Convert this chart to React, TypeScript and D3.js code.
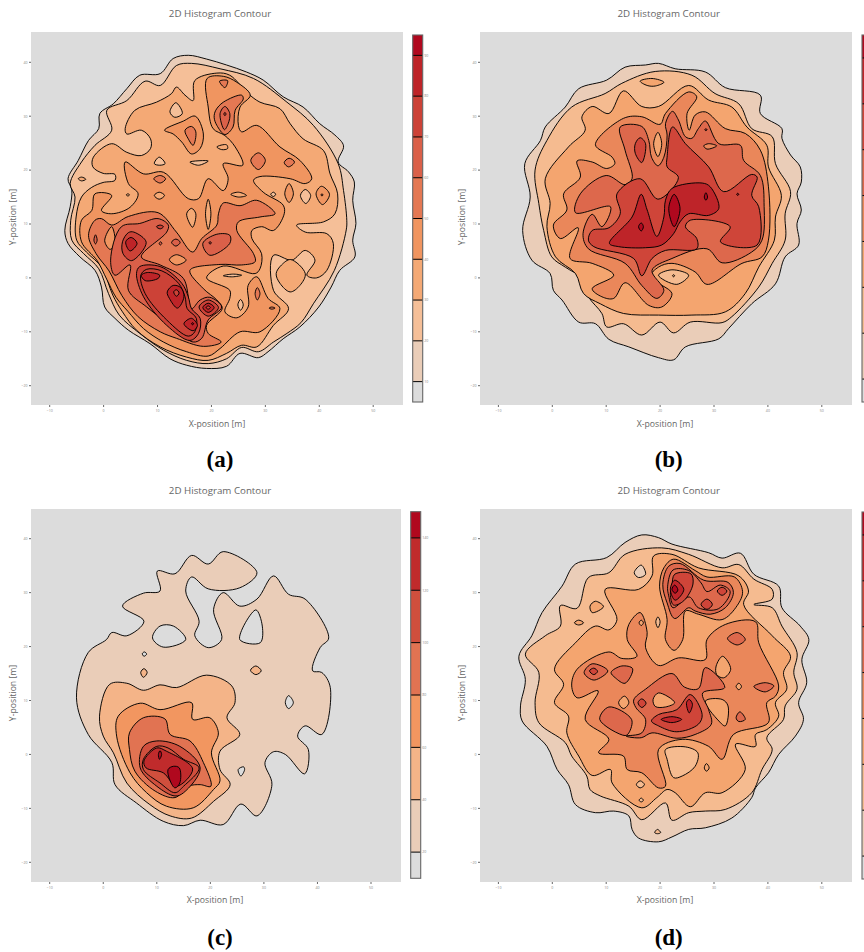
import React from "react";
import * as d3 from "d3";

const xTicks = [-10, 0, 10, 20, 30, 40, 50];
const yTicks = [-20, -10, 0, 10, 20, 30, 40];
const barTicksA = [10, 20, 30, 40, 50, 60, 70, 80, 90];
const barTicksB = [10, 20, 30, 40, 50, 60, 70, 80];
const barTicksC = [20, 40, 60, 80, 100, 120, 140];
const colorsA = ["#eacdb8", "#f5bf98", "#f4a975", "#f09560", "#e47853", "#da6049", "#cc4237", "#be2428", "#b0081e"];
const colorsB = ["#eacdb8", "#f5bb90", "#f4a56f", "#ea875a", "#dd684c", "#cf4539", "#be2429", "#b0081e"];
const colorsC = ["#eacdb8", "#f4b488", "#f29660", "#e17352", "#d04f3d", "#c02b2c", "#b0081e"];

type C = [number, number[]];

const contoursA: C[] = [
  [0, [12.9,40.7,15.7,41.3,19.1,40.6,22.8,39.5,26.5,38.2,29.6,36.7,33.3,33.6,37,31.7,40.1,28.6,42.9,26.5,44.5,24.5,43.5,21.5,45.4,19.7,46.5,17.8,46.2,14.4,46.8,10.1,46.2,7,46.6,3.9,43.8,1.4,42.2,-1.7,39.9,-5.4,36.4,-9.1,33.3,-11.3,30.5,-13.7,28.7,-14.8,25.3,-14,22.8,-16.4,19.1,-16.8,15.4,-16.2,12.3,-15,8.6,-12.2,4.6,-9.7,2.1,-7.5,0.2,-5.4,-0.4,-1.7,-1.6,1.4,-4.4,3.9,-6.6,6.4,-7.2,8.8,-6.2,13.2,-5.9,16.3,-6.6,18.4,-4.7,21.8,-2.8,25.5,-0.9,27.7,-0.7,30.5,1.8,32.3,4.3,35.1,6.7,37.6,10.5,37.9]],
  [1, [16.3,39.8,21.6,38.8,27.8,37,34,32.6,38.9,28.3,43.5,21.2,44.5,16.2,45.1,10.7,45,8.9,42.8,1.4,38.9,-4.8,36.6,-8.3,34,-10.3,31.5,-11.9,28.7,-13.7,25.6,-12.9,22.8,-15,19.4,-15.9,15.4,-15.3,11.1,-13.4,6.7,-10.3,2.9,-6.9,0.9,-2.9,-0.9,1.7,-3.7,4.5,-5.9,7,-6.1,10.7,-5.3,15,-6.2,17.5,-4.1,21.5,-1.6,24.6,1.5,27.4,0.6,31.1,4.3,32.9,7.7,36.5,10.5,35.7,13.5,39.4]],
  [2, [-1.9,22.4,1.5,24.9,4.3,23.3,7,22.7,8.7,24,8.7,25.8,7,27.4,4.3,26.7,4,27.7,5.8,31.1,9.8,32.6,12.6,34.2,13.5,35.4,15.1,33.9,16.6,32.9,16.9,36.6,21,38,23.4,37.6,26.8,34.2,29,32.6,32.7,31.4,34.6,28.6,37,25.8,40.8,23.6,42,19.3,43.4,15.6,42.9,11.9,40.8,10.4,35.8,9.8,37.4,8.5,41.4,8.2,42.6,6.4,41.4,1.4,39.5,0,37.7,0.5,39.2,3.3,37.4,5.1,34.9,3.3,31.5,4.2,31.5,-2.3,34.3,-5.7,31.5,-8.8,28.4,-12.8,25.6,-12.5,22.8,-14,19.4,-15.3,15.4,-14.7,10.5,-12.8,6.1,-9.7,3.5,-6.3,1.7,-3.2,-0.3,1.9,-3.2,4.8,-5,7,-5.1,11.3,-4.1,15,-2.2,16.8,-0.1,17.7,2.1,18.1,2.1,19.2,-0.1,19.4,-2,20.6]],
  [2, [32,0.8,33,2.4,34.7,3.4,37.4,0.8,36.4,-1.4,34.6,-2.6,32.7,-1]],
  [3, [19.2,37,22.2,37.4,24.7,36.3,27.2,33.9,25.3,31.7,25,28.3,25.6,27.1,28.4,28.3,32.7,24.3,36.4,21.8,38.6,18.4,37.4,17.5,34.6,18.4,29,18.8,27.8,18.1,29.6,15.9,33.3,13.5,33.5,11.9,31.5,8.8,29.3,9.5,27.5,8.8,27.5,7.3,29.3,4.5,29,1.7,28.1,0.8,22.2,2.2,19.1,0,23.4,-2.3,23.4,-3.8,22.5,-6.3,24.7,-7.4,26.8,-5.4,26.8,-1.4,28.4,0.2,30.5,-3.8,32.7,-5.7,29,-10,25.3,-10,21.6,-13.1,19.4,-14.5,15.4,-13.7,11.1,-11.9,7.4,-9.4,4.5,-6.2,2.3,-3.6,0.6,-0.3,-1.2,3.2,-4.1,6.7,-4.1,10.7,-2.2,12.5,-1.6,15.6,1.5,15.3,-0.4,12.5,1.5,11.9,4.9,13.1,6.4,15.6,4.6,17.5,4,21.5,7.4,19.3,11.1,19.6,15.7,14.7,17.6,14.7,19.4,18.4,22.2,16.2,23.1,18.4,22.2,21.2,25.8,20.9,24.4,24.3,22.5,26.4,20.3,27.7,19.4,31.7]],
  [4, [-2.8,7.9,-1.6,10.7,-0.4,11,1.5,9.8,4.6,11.4,10.1,12.1,13.5,8.5,16.5,4.8,18.2,7.3,21,9.8,21.3,11.9,22.2,13.9,25.3,13.4,28.4,14.4,31.8,11.9,29,11.3,25,10.4,24.7,8.8,27.8,4.5,28.1,3,25.6,2.4,21.6,2.5,16,1.4,18.5,-2,21,-4.1,22,-5.7,19.1,-8.8,19.4,-10.3,21.8,-11.9,18.5,-12.7,13.5,-11.2,10.5,-10,6.4,-7.2,3.4,-3.3,1,1.3,-1.4,4.5]],
  [3, [1.5,9.5,0.2,6.9,1.2,5.3,2.1,6.4]],
  [5, [3.3,9.5,6.7,10.1,10.1,11,12,9.8,11.7,8.5,7,3.9,10.5,2.4,14.8,-0.1,16.3,-5.7,17.9,-4.1,19.7,-3.6,21.9,-5.4,19.4,-7.8,18.2,-11.2,16.6,-11.9,12.9,-9.1,8,-5.4,4.6,-2.3,4.9,2.4,2.1,0.5,1.3,3.3]],
  [5, [18.4,6.4,21,8.1,23.4,7.9,23.4,6.4,19.7,4.2]],
  [5, [-1.5,8,-1.2,7,-1.5,6.3,-1.8,7]],
  [5, [12.6,6.6,13.4,7.2,14.2,6.6,13.4,5.9]],
  [6, [9.8,9.5,10.5,9.8,11.1,9.5,10.5,9.1]],
  [5, [10.3,6.4,10.6,6.7,10.8,6.4,10.5,6.1]],
  [3, [12.2,3.4,13.5,4.3,15.3,3.3,13.5,2.4]],
  [6, [19.5,6.5,19.8,6.7,20,6.5,19.8,6.3]],
  [6, [3.5,6.7,4.6,8.4,5.6,8.5,7.9,6.6,5.2,3.2,3.6,4.5]],
  [7, [4.1,6.7,5.1,7.5,6.2,6.4,4.9,5]],
  [6, [6.1,0.8,6.7,2.1,10.5,2.1,14.5,-1,15.7,-3.5,16.3,-5.7,17.9,-7.5,17.6,-10.3,16,-11.6,11.7,-8.8,7.4,-3.5]],
  [6, [6.9,0.5,8,1.6,10.8,1.3,13.9,-1,15.1,-3.5,15.5,-5.7,17.2,-7.5,16.9,-10,15.7,-10.8,11.7,-7.8,7.7,-2.9]],
  [7, [7,0.5,8.1,1,10.4,0.5,10.1,-0.1,7.7,-0.5]],
  [7, [11.8,-2.6,12.9,-1.4,14.3,-1.8,14.9,-3.5,13.7,-5.6,12.2,-3.8]],
  [6, [13,-2.6,13.5,-2.2,14,-2.8,13.5,-3.4]],
  [7, [14.9,-8.5,16.3,-7.5,17.4,-8.8,16.6,-9.8]],
  [8, [16.3,-8.5,16.5,-8.3,16.7,-8.5,16.5,-8.7]],
  [6, [17.7,-5.4,19.4,-4.1,21.3,-5.5,19.4,-7.1]],
  [7, [18.4,-5.5,19.4,-4.7,20.5,-5.5,19.4,-6.4]],
  [6, [19,-5.5,19.4,-5.2,19.8,-5.5,19.4,-5.8]],
  [1, [12.3,30.8,13.4,32.5,14.6,30.5,13.2,29.8]],
  [3, [11.3,27.4,14.8,29.1,17,30,18.5,26.7,17.9,24,16.3,23,14.5,25.2,12.9,26.7]],
  [4, [15.1,27.4,16.3,28.1,17.1,27.1,16.6,24.6,15.7,25.8]],
  [4, [21.5,36.5,23,36.6,22.5,35.3]],
  [4, [20.8,31.1,22.2,32.6,25.6,33.9,25.9,33.2,24.4,31.1,24,28,22.5,26.6,21,28.3,20.5,29.8]],
  [5, [21.6,30.5,22.5,31.8,23.4,30.5,23.1,28.6,22.4,27.5]],
  [6, [22.3,30.4,22.5,30.7,22.7,30.4,22.5,30.1]],
  [2, [21,24.3,22.8,24.7,23,24,21.9,23.8]],
  [4, [27.3,21.8,28.7,23.2,30,21.8,28.7,20.1]],
  [4, [33.5,21.4,34.4,22.2,35.4,21.5,34.3,20.6]],
  [1, [9.4,21.2,10.3,22.4,11.4,21.2,10.4,20.9]],
  [1, [16,21.5,19.4,21.7,17.6,20.9]],
  [4, [9.3,18.4,10.5,19,11.5,18.4,10.5,17.6]],
  [2, [9.4,15.3,10.3,15.9,11.3,15.3,10.3,14.6]],
  [2, [4.2,15.4,4.5,15.6,4.8,15.4,4.5,15.2]],
  [2, [-4.7,18.4,-4.1,18.7,-3.3,18.3,-4.1,18]],
  [2, [23.6,15.5,25,15.9,26.5,15.3,25,15]],
  [1, [31,15.5,31.5,15.9,31.9,15.5,31.5,15.1]],
  [3, [33.6,15.6,34.4,17.5,35.2,15.6,34.4,14]],
  [1, [36.5,15.3,37.4,16.4,38.4,15.3,37.5,13.8]],
  [3, [39.4,15.6,40.4,17,41.9,15.5,40.6,13.6]],
  [4, [40.3,15.4,40.5,15.6,40.7,15.4,40.5,15.2]],
  [2, [15.4,11.9,16.3,12.9,17.1,11.9,16.5,9.4]],
  [2, [18.9,11.9,19.4,14.6,19.9,11.9,19.4,9]],
  [4, [28.1,-2.9,28.5,-1.8,29,-2.9,28.5,-4.1]],
  [1, [24.9,-5,25.4,-4,25.9,-5,25.4,-6]],
  [4, [30.7,-5.6,31.2,-5.4,31.8,-5.6,31.2,-5.8]],
  [1, [22.2,0.4,23.9,0.7,25.6,0.5,23.9,0.2]],
];

const contoursB: C[] = [
  [0, [19.7,39.8,22.8,38.8,28.4,38.2,32.1,35.3,38.6,33.9,38.6,30.5,42.6,27.7,42.6,25.9,44.2,22.8,46,20.6,46.2,17.8,45.4,15.6,46.2,12.6,45.4,10.1,45.7,6.1,43.2,3.9,41.4,-1.1,37,-4.8,32.7,-9.4,30.9,-11.3,24.7,-12.8,22.5,-15.2,19.7,-14.8,14.2,-12.8,10.5,-11.4,8,-8.5,4.9,-8.2,1.8,-4.1,0.2,-2.3,-0.4,0.8,-3.8,3.3,-5.5,8.8,-4.1,15,-5.1,21.2,-2.2,25.5,-1.3,28,2.4,31.7,4.9,35.1,10.1,36.7,13.5,39.1,17.3,39.5]],
  [1, [19.1,38.3,25.9,37.6,30.2,34.2,34.6,32.3,37,27.7,40.8,26.2,41.4,21.2,44.2,16,43.2,11.9,43.2,7,40.8,2.7,38.3,-1.7,33.3,-7.2,31.5,-8.3,25.6,-8.2,22.5,-10.2,20,-8.2,16.6,-10.6,13.2,-8.5,10.1,-9.1,9.2,-6.6,6.7,-3.5,5.5,-0.1,2.4,2,-0.1,3.9,-1.6,8.8,-2.5,13.8,-3.2,20,-1,25.5,3.6,31.7,9.8,34.2,12.9,36.1]],
  [2, [16.3,36.5,18.5,37,20.7,36.3,19.1,35.6,17.6,35.7]],
  [2, [1.1,21.5,1.4,21.7,1.7,21.5,1.4,21.3]],
  [2, [5.5,29.9,7.4,31.8,10.5,30.5,13.2,34.7,16.6,31.8,19.7,31.8,25.3,35.7,29,33,33.3,31.7,36.1,28,39.8,24.6,40.1,20.6,42.5,15.3,41.4,11.3,41.2,7,38.3,2,35.8,-2.9,32.1,-6.3,25.9,-6.9,19.7,-6.9,13.2,-6.6,8.9,-4.8,5.8,-2.9,4.3,0.8,0.6,3.9,-1,9.5,-0.4,13.8,-1.3,18.4,3,24.3,6.1,27.4]],
  [3, [8,24.7,13.2,29.6,16.6,29.9,20,28.5,21,30.5,25.3,34.5,26.8,33.6,25,30.5,25.4,27.4,26.5,30.2,28.4,30.8,32.1,27.7,35.8,26.8,38.6,23.7,40.1,16.9,40.1,7,38.9,3.9,35.2,2.7,28.7,-1.2,26.5,1.1,22.2,2.7,19.7,2,18.2,0.2,22.2,-2.9,20.3,-5.4,17.9,-5.1,13.5,-0.9,11.4,-3.8,9.2,-3.5,7.4,-2,11.4,0.5,7.4,2.7,3.3,3.6,4.8,9.3,1.5,7.3,0.2,9.8,2.7,12.6,2.1,15.6,5.2,18.7,4.6,21.7,7.4,21.5,10.1,20.3,11.6,21.2,11.1,22.4]],
  [4, [12.6,28,16.6,28.1,17.9,25.5,18.4,22.4,19.6,20.8,20.7,22.4,21.3,26.5,21,28.6,22.3,30.9,23.4,29.3,24.7,26.2,25.9,25.9,27.1,27.7,28.4,29.1,30.9,24.9,34.9,24.6,35.5,21.8,38.6,19,39.3,13.2,38.9,7,37,4.8,31.5,2.8,28.7,5.4,22.2,3.6,18.5,1.4,20.7,-2.3,19.4,-3.8,16.6,-1.4,13.5,2.7,6.7,5.4,5.7,8.2,7.4,11.8,9.2,9.5,10.8,13.2,4.3,12.1,5.2,15.6,10,19,13.5,17.3,14.8,18.4,13.5,23.7]],
  [2, [18.8,24.9,19.6,27,20.3,24.9,19.6,22.5]],
  [3, [28.1,24.5,29,24.9,30.5,24.5,28.7,23.9]],
  [5, [28.3,27.5,28.5,27.7,28.7,27.5,28.5,27.3]],
  [5, [15.4,24.9,16.3,26,17.3,24.9,16.6,21.4,15.4,23.1]],
  [5, [19.6,14.6,16.3,18.4,12,15.6,12.6,11.9,10.5,9.3,7.4,8.8,6.7,7,7.7,5.8,15.1,3.6,16.6,0.4,18.5,3.6,21,5.1,26.8,5.4,26.8,7.3,24.7,9.5,25.6,10.7,33,9.5,31.2,6.7,38,6.1,38.3,13.2,37,15.3,38,18.7,37,19.2,31.8,16,29,20.6,24.7,24.9,22.3,28,21.3,22.4,21.3,20.6,23.4,18.6]],
  [6, [34.2,15.5,34.4,15.7,34.6,15.5,34.4,15.3]],
  [6, [10.6,6.4,14.8,11.3,16.5,15.5,17.6,12.6,19.4,7.7,20.7,11.3,21,14.4,22.2,16.6,27.8,17.6,29.3,16.9,30.9,12.9,29,11.6,25.3,11.9,23.7,10.4,22.5,8.2,20.3,6.1,17.3,5.6,12.3,5.8]],
  [7, [21.6,12.9,22.6,15.5,23.7,12.9,22.6,9.5]],
  [7, [16,9.5,16.5,10.2,16.9,9.5,16.5,8.7]],
  [7, [28.2,15,28.5,15.8,28.8,15,28.5,14.4]],
  [1, [19.7,0.5,22.2,1.5,25.3,0.5,23.1,-1.2]],
  [2, [22.3,0.4,22.5,0.6,22.7,0.4,22.5,0.2]],
];

const contoursC: C[] = [
  [0, [16.5,36.9,19.6,35.3,22.4,37.6,28.7,33.7,25.5,30.9,19.6,30.7,16.5,32.9,15.4,30.3,17.9,24.7,17.1,22,19.6,19.8,22.1,21.3,20.6,26.9,22.4,30,25.5,27.5,28.7,28.8,31.8,33.1,34.6,29.7,37.7,28.8,42.1,21.6,40.5,19.8,39.1,15.5,40.8,15.2,42.4,12.4,40.8,3.7,37.7,5.3,36.3,3.4,38.3,0.9,37.6,-3.6,34,0,31.8,0.5,30.2,-1.5,31.5,-5.6,28.7,-11.4,25.7,-9.2,22.4,-13,18.1,-12.2,15,-13.2,11.2,-12.4,6.2,-9,2.2,-5.6,1.6,-1.5,-2.8,3.7,-5,10.5,-2.8,18.9,0.6,21.3,1.6,22.6,4.4,22,7.6,24.7,3.6,27.5,7.5,29.9,10.6,30.3,10.1,34,13.4,33.5]],
  [-1, [9.2,21.6,10.6,23.8,13.1,23.8,15.4,21.3,11.2,19.9]],
  [-1, [25.5,21.3,28.5,26.8,29.7,23.8,29.3,20.7]],
  [-1, [7.3,18.7,7.7,19,8.1,18.6,7.6,18.2]],
  [-1, [34,9.6,34.6,10.9,35.5,9.6,34.6,8.5]],
  [-1, [25.2,-2.8,26.2,-2.3,26.4,-2.8,25.7,-4]],
  [1, [7,15.2,7.6,15.9,8.2,15.2,7.5,14.3]],
  [1, [27.5,15.6,28.5,16.4,29.5,15.5,28.5,14.8]],
  [1, [1.2,13,4.4,13.2,7.5,11.9,10.6,12.9,13.7,12.4,19.3,14.7,24,12.7,24.6,9.6,23.1,6.8,25.5,3.7,21.8,0.6,21.8,-2.8,23.7,-5.6,20.6,-8.7,16.5,-11.8,12.5,-11.4,8.7,-9.3,4.4,-5.3,1.9,0.3,0,3.4,-0.7,7.1]],
  [2, [6.9,9.5,10.6,8.3,16.5,9.6,16.7,6.5,19.9,6.8,21.5,4,20.2,0.3,21.8,-4.9,20.6,-6.5,16.8,-9.9,11.8,-9.6,8.1,-7.1,5,-3.4,2.5,3.4,2.8,7.1]],
  [3, [7.5,6.8,11.5,6.6,12.5,3.7,16.2,2.5,18.7,-1.5,20.1,-5.9,18.1,-5.6,15.9,-5.9,13.4,-8,9.7,-6.8,5.9,-3.1,4.9,0.9,4.9,4]],
  [4, [7.5,1.5,10,2.5,14.3,1.5,18.1,-2.5,15,-7.1,13.4,-7.7,10,-5.9,6.9,-2.5]],
  [4, [7.5,-0.9,10,1.5,12.1,1.2,15,-0.9,17.9,-2.5,15,-5.9,13.4,-7.1,10.6,-5.3,7.5,-2.8]],
  [5, [7.6,-1.2,10,1.2,11.8,0.6,16.7,-2.7,13.7,-5.9,11.2,-3.4,8,-2.5]],
  [6, [10.3,0,10.6,0.7,10.9,0,10.5,-0.9]],
  [6, [12.1,-2.8,13.1,-2.2,14.2,-2.5,14.3,-5.3,13.4,-6.2,12.5,-4.9]],
];

const contoursD: C[] = [
  [0, [16.6,40.7,19.7,40.2,22.2,39,29,37.4,31.5,36.4,34.9,37.3,37.4,33.4,42,31.2,42.6,27.2,46,23.8,47.6,21.3,46.3,17.6,47.2,13.3,45.7,9.6,46.6,6.5,45.1,3.4,42,0,40.1,-3.4,37.7,-6.2,37,-8,33.3,-11.8,28.4,-13.6,25.3,-13.9,22.2,-15.3,19.7,-16.2,16,-15.5,14.8,-13.9,14.2,-11.4,11.4,-10.5,8,-10.8,4.3,-9.3,3,-5.6,0.9,-2.8,-1,1.5,-5.6,6.2,-5.9,9,-5,13.9,-6.2,18.2,-3.8,22,-1.9,26.3,1.8,31.2,4.3,35.3,10.1,36.5,13.5,39.3]],
  [1, [19,-14.5,19.5,-13.9,20.1,-14.5,19.5,-14.7]],
  [1, [13.5,37.1,20.3,38.3,25.3,37.1,31.5,34.6,34.6,35.2,37.4,32.5,40.8,30.6,40.8,28.8,37.4,27.8,40.8,27.2,42.6,23.8,45.4,18.9,44.8,15.2,45.4,12.1,43.2,9,42.9,6.5,39.8,3.1,40.8,0.9,38.9,-2.8,37,-7.1,32.1,-10.2,28.4,-10.5,25.3,-10.8,22.2,-12.2,21,-9,16.6,-12.1,14.2,-9.6,8.9,-7.7,7,-6.5,6.4,-4,3.6,-0.3,2.4,2.2,-2.5,5.9,-3.2,9.6,-2.5,15.2,-5,18.6,-1.3,22,1.5,23.8,1.5,27.6,4.6,27.1,6.7,32.8,10.5,33.7]],
  [2, [18.8,36.8,22.2,37.1,27.1,34.6,34.6,33.1,36.4,30.3,35.5,27.8,40.8,22,44.2,18.2,42.9,15.2,43.5,12.1,41.4,9.6,42,7.1,39.8,4.6,37.7,3.7,37.7,1.5,34,1.9,35.8,-2.8,31.5,-7.1,28.4,-7.1,25.6,-9.7,22.8,-7.1,21.3,-6.5,19.4,-8,16.6,-9.9,11.1,-5.3,10.8,-2.8,7.4,-3.9,4.9,-0.3,2.7,4,3,7.1,0.4,9.6,2.1,13,0.4,15.8,4.3,20.7,8,23.8,10.5,23.1,12,25,9.8,30.6,16,30.6,18.5,33.1]],
  [0, [15.2,33.7,16.5,35.1,17.3,33.4,16,32.8]],
  [2, [7,27.5,8,28.4,9.5,27.4,7.4,26.3]],
  [2, [4.1,24.4,4.9,24.9,5.8,24.4,4.9,24]],
  [3, [16.3,26.3,17.6,22.6,17.3,19.8,19.7,16.5,23.4,17.9,28.4,17.6,28.7,21.3,32.1,24.1,37.7,24.6,38.3,20.7,42,12.7,41.4,10.8,39.8,9.6,40.1,5.9,33.6,3.7,31.5,-0.9,29,1.5,24.1,2.8,19.7,0.9,21,-5.9,19.7,-6.2,16.6,-3.4,13.9,-2.8,13.2,-0.3,8.6,0.3,10.5,2.8,6.1,6.5,8.5,11.8,4.6,10.5,3.6,12.7,4.6,15.8,10.5,19,12.9,17.8,15.7,18.2,13.9,21.3,14.2,24.1]],
  [3, [19.9,31.2,20.7,34.6,22.5,36.2,26.5,34.1,28.7,32.9,33.8,32.9,35.3,30.2,34.3,27.6,31.5,25,27.1,26,24.7,26.6,24.2,21.3,22.6,19.3,21,21.3,21.3,25]],
  [4, [20.5,31.5,21.6,34.9,23.7,35.4,28.1,32.3,32.6,31.9,33.6,30,32.1,27.2,29.3,26,26.5,26.6,25.3,27.2,22.7,25.2,21.3,28.1]],
  [4, [21.4,31.2,22.4,34.2,25.3,34.1,27.6,31.8,28.7,30.2,31.2,31.4,33,30.2,30.8,27,27.1,27.2,25.4,29.2,22.4,27.2,21.6,29.4]],
  [5, [22.2,31.4,22.7,33.4,25.7,33.5,26.1,31.6,24.4,28.5,22.5,27.7,21.9,29.7]],
  [6, [21.9,30.6,22.7,32.3,24.4,30.6,22.8,28.6]],
  [7, [22.2,30.6,22.7,31.4,23.3,30.5,22.8,29.9]],
  [5, [30.6,30.3,31.5,31,32.4,30.3,31.5,29.5]],
  [5, [27.6,27.8,28.7,28.8,29.7,27.8,28.7,26.9]],
  [2, [16.1,24.4,16.5,24.9,16.9,24.4,16.5,23.9]],
  [1, [19.2,24.6,19.6,25.5,20,24.6,19.6,23.5]],
  [4, [32.5,21.5,34.3,22.6,35.8,21.3,34.3,20.3]],
  [2, [30.4,16.4,31.6,18.2,33.1,15.8,31.8,14.2,30.5,14.8]],
  [2, [34.1,12.6,34.6,13.2,35.1,12.6,34.6,12]],
  [4, [37.4,12.6,39.5,13.3,41.1,12.7,39.5,11.6]],
  [2, [28.4,9.9,31.5,10.2,32.6,9,32.1,5.3,30.9,6.2]],
  [4, [34.1,6.8,34.8,7.9,35.8,6.5,34.6,6.1]],
  [1, [21,0.9,24.7,1.4,27,0.3,26.5,-2.2,24.1,-4,22.5,-4.3,21.3,-0.9]],
  [2, [28.2,-2.5,28.6,-1.7,29.1,-2.5,28.6,-3.1]],
  [1, [15.6,-5.6,16.3,-4.9,17.1,-5.6,16.3,-6.2]],
  [1, [16.1,-8.5,16.5,-8.1,16.9,-8.5,16.5,-8.8]],
  [4, [5.9,15.2,7.4,16.8,10.3,15.5,7.9,13.8,6.7,14.2]],
  [5, [6.9,15.5,7.7,16,8.4,15.4,7.7,14.8]],
  [4, [10.9,15.2,12.9,16.4,14.9,15.9,13.5,13.2,11.7,14.2]],
  [2, [12.3,9.6,13.4,10.8,14.2,9.6,13.2,8.5]],
  [4, [15.1,10.1,17.3,12.1,22.2,15,24.5,12.5,27.1,12.2,28.4,16.1,32,12.4,27.9,11.4,29,8.3,29.5,5.6,26.5,3.7,23.1,3,18.5,4,16.5,3.1,13.7,3.4,16.6,4,17.3,6.5,15.5,8.7]],
  [4, [8.8,6.5,10.5,8.8,14.7,6.5,14.2,4,13.5,3.5]],
  [2, [18.7,10.2,19.7,11.4,22.7,9.6,21,8.8,19.1,8.9]],
  [5, [15.9,9.6,16.6,10.3,17.4,9.5,16.6,8.7]],
  [5, [18.4,6.2,19.7,7.4,23.1,8.3,25.6,11.1,27.8,7.4,27.1,5.6,23.1,4.2,19.7,5.3]],
  [6, [20.2,6.5,22.2,7,24,6.5,22.2,5.9]],
  [6, [24.9,9.6,25.4,10.2,26,9.3,25.4,7.7]],
];

const BG = "#dcdcdc";
const FONT = "'Open Sans', sans-serif";
const smooth = d3.curveCatmullRomClosed.alpha(0.5);
const PAGE_WIDTH = 864;

type PanelProps = {
  letter: string; contours: C[]; colors: string[]; ticks: number[];
  left: number; right: number; top: number; bottom: number;
  xm10: number; x50: number; y40: number; ym20: number;
  barX: number; barTop: number; barBottom: number; barDomain: [number, number]; titleX: number; xLabelX: number; yLabelX: number; yCenter: number;
  titleY: number; xLabelY: number; letterY: number;
};

function Panel(p: PanelProps) {
  const x = d3.scaleLinear().domain([-10, 50]).range([p.xm10, p.x50]);
  const y = d3.scaleLinear().domain([-20, 40]).range([p.ym20, p.y40]);
  const bar = d3.scaleLinear().domain(p.barDomain).range([p.barBottom, p.barTop]);
  const line = d3.line<[number, number]>().x(d => x(d[0])).y(d => y(d[1])).curve(smooth);
  const pairs = (f: number[]) => d3.range(0, f.length, 2).map(i => [f[i], f[i + 1]] as [number, number]);
  const edges = [p.barDomain[0], ...p.ticks, p.barDomain[1]];
  const labelsFit = p.barX + 20 < PAGE_WIDTH;
  return (
    <g>
      <text x={p.titleX} y={p.titleY} textAnchor="middle" fontFamily={FONT} fontSize={9.75} fill="#666">2D Histogram Contour</text>
      <rect x={p.left} y={p.top} width={p.right - p.left} height={p.bottom - p.top} fill={BG} />
      {p.contours.map(([lvl, pts], i) => (
        <path key={i} d={line(pairs(pts)) || ""} fill={lvl < 0 ? BG : p.colors[lvl]} stroke="#000" strokeWidth={0.95} strokeLinejoin="round" />
      ))}
      {xTicks.map(t => (
        <g key={t}>
          <line x1={x(t)} x2={x(t)} y1={p.bottom} y2={p.bottom + 2} stroke="#666" strokeWidth={1} />
          <text x={x(t)} y={p.bottom + 6.5} textAnchor="middle" fontFamily={FONT} fontSize={3.6} fill="#888">{t < 0 ? "\u2212" + -t : t}</text>
        </g>
      ))}
      {yTicks.map(t => (
        <g key={t}>
          <line x1={p.left - 2} x2={p.left} y1={y(t)} y2={y(t)} stroke="#666" strokeWidth={1} />
          <text x={p.left - 3.5} y={y(t) + 1.3} textAnchor="end" fontFamily={FONT} fontSize={3.6} fill="#888">{t < 0 ? "\u2212" + -t : t}</text>
        </g>
      ))}
      <text x={p.xLabelX} y={p.xLabelY} textAnchor="middle" fontFamily={FONT} fontSize={8.7} fill="#666">X-position [m]</text>
      <text transform={`translate(${p.yLabelX},${p.yCenter}) rotate(-90)`} textAnchor="middle" fontFamily={FONT} fontSize={8.7} fill="#666">Y-position [m]</text>
      {edges.slice(0, -1).map((e, i) => (
        <rect key={i} x={p.barX} width={10} y={bar(edges[i + 1])} height={bar(e) - bar(edges[i + 1])} fill={i === 0 ? BG : p.colors[i - 1]} />
      ))}
      {p.ticks.map(t => (
        <g key={t}>
          <line x1={p.barX} x2={p.barX + 10} y1={bar(t)} y2={bar(t)} stroke="#000" strokeWidth={1} />
          {labelsFit && <text x={p.barX + 11.5} y={bar(t) + 1.3} fontFamily={FONT} fontSize={3.6} fill="#888">{t}</text>}
        </g>
      ))}
      <rect x={p.barX} y={p.barTop} width={10} height={p.barBottom - p.barTop} fill="none" stroke="#666" strokeWidth={1.1} />
      <text x={p.titleX} y={p.letterY} textAnchor="middle" fontFamily="'Liberation Serif', serif" fontWeight="bold" fontSize={23} fill="#000">({p.letter})</text>
    </g>
  );
}

export default function App() {
  const topRow = { top: 32, bottom: 405, y40: 62.3, ym20: 385.7, titleY: 16.5, xLabelY: 427, letterY: 467, yCenter: 217 };
  const botRow = { top: 509, bottom: 882, y40: 538.7, ym20: 862.3, titleY: 493.5, xLabelY: 903, letterY: 945, yCenter: 693 };
  return (
    <svg width={864} height={952} style={{ position: "absolute", left: 0, top: 0, background: "#fff" }}>
      <Panel letter="a" contours={contoursA} colors={colorsA} ticks={barTicksA} left={31} right={403} xm10={49.7} x50={373.2} {...topRow}
        barX={412.7} barTop={35} barBottom={402} barDomain={[5, 95]} titleX={220} xLabelX={217} yLabelX={15.5} />
      <Panel letter="b" contours={contoursB} colors={colorsB} ticks={barTicksB} left={480} right={852} xm10={498.4} x50={821.8} {...topRow}
        barX={862} barTop={35} barBottom={402} barDomain={[5, 85]} titleX={668.7} xLabelX={665} yLabelX={464.5} />
      <Panel letter="c" contours={contoursC} colors={colorsC} ticks={barTicksC} left={31} right={401} xm10={49.7} x50={371} {...botRow}
        barX={410.7} barTop={511.7} barBottom={878.3} barDomain={[10, 150]} titleX={220} xLabelX={215} yLabelX={15.5} />
      <Panel letter="d" contours={contoursD} colors={colorsB} ticks={barTicksB} left={480} right={852} xm10={498.4} x50={821.8} {...botRow}
        barX={862} barTop={512} barBottom={879} barDomain={[5, 85]} titleX={668.7} xLabelX={665} yLabelX={464.5} />
    </svg>
  );
}
